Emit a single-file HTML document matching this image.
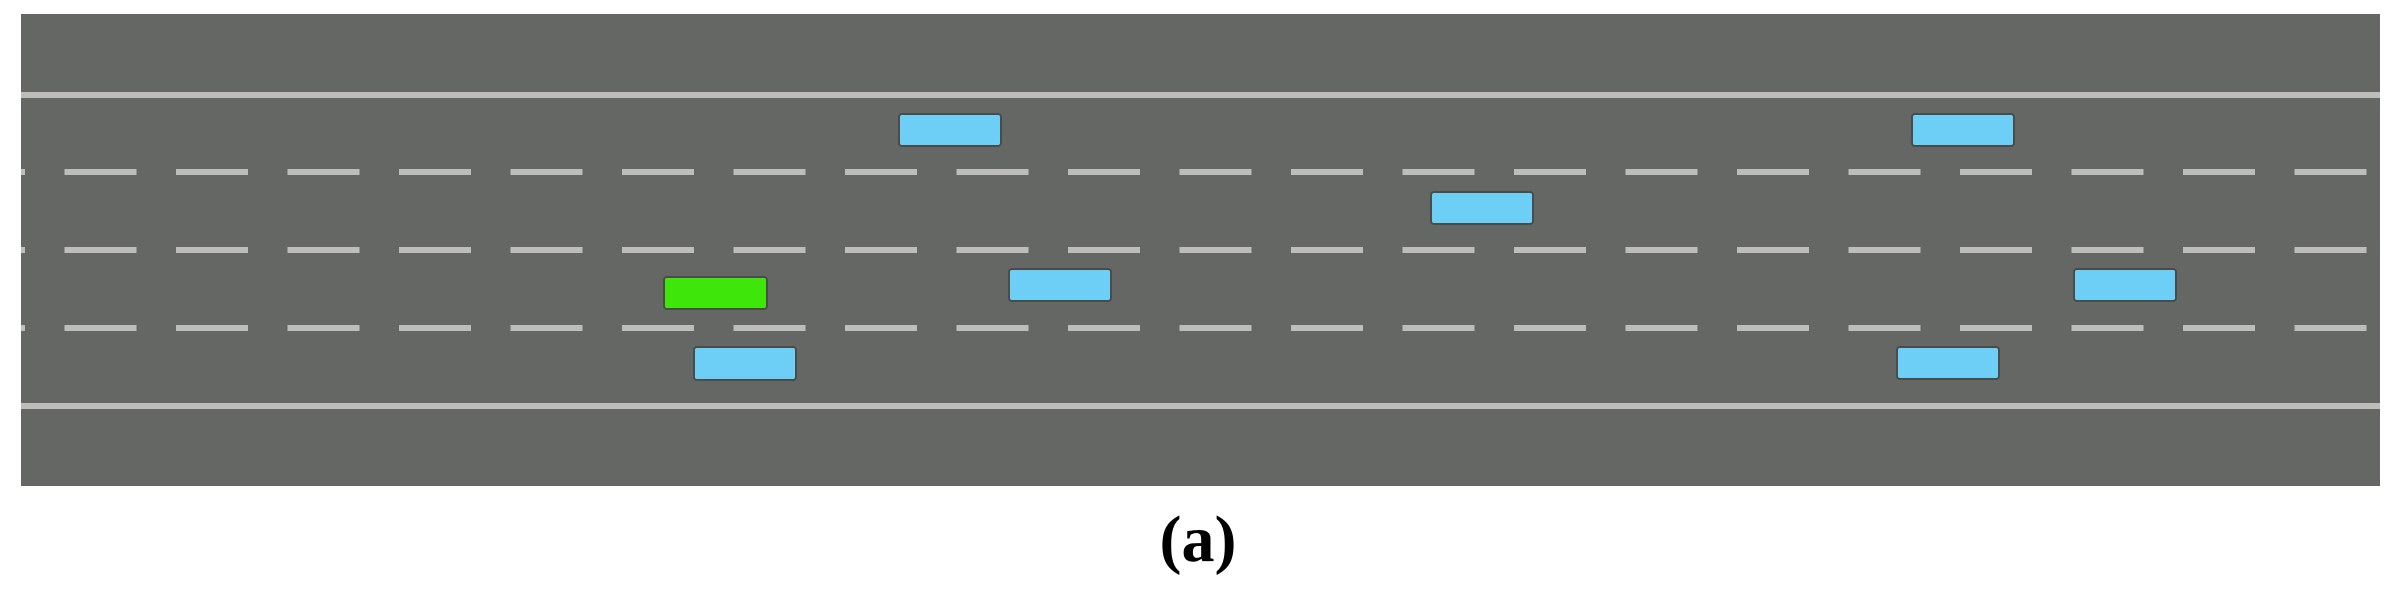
<!DOCTYPE html>
<html><head><style>
body{margin:0;width:2396px;height:599px;background:#fff;position:relative;overflow:hidden}
.car{position:absolute;width:100px;height:31px;border:2px solid #4a4c4a;border-radius:4px;box-sizing:border-box;background:#6dcff6}
.g{background:#3ee60a}
#lbl{position:absolute;left:0;width:2396px;top:503px;text-align:center;font:bold 66px "Liberation Serif",serif;line-height:74px}
</style></head><body>
<svg width="2396" height="599" style="position:absolute;left:0;top:0">
<rect x="21" y="14" width="2359" height="472" fill="#656764"/>
<rect x="21" y="92" width="2359" height="6" fill="#bdbdbb"/>
<rect x="21" y="403" width="2359" height="6" fill="#bdbdbb"/>
<g stroke="#bdbdbb" stroke-width="6" stroke-dasharray="72 39.5" stroke-dashoffset="68">
<line x1="21" y1="172" x2="2368" y2="172"/>
<line x1="21" y1="250" x2="2368" y2="250"/>
<line x1="21" y1="328" x2="2368" y2="328"/>
</g>
</svg>
<div class="car g" style="left:663px;top:276px;width:105px;height:34px"></div>
<div class="car" style="left:693px;top:346px;width:104px;height:35px"></div>
<div class="car" style="left:898px;top:113px;width:104px;height:34px"></div>
<div class="car" style="left:1008px;top:268px;width:104px;height:34px"></div>
<div class="car" style="left:1430px;top:191px;width:104px;height:34px"></div>
<div class="car" style="left:1911px;top:113px;width:104px;height:34px"></div>
<div class="car" style="left:2073px;top:268px;width:104px;height:34px"></div>
<div class="car" style="left:1896px;top:346px;width:104px;height:34px"></div>
<div id="lbl">(a)</div>
</body></html>
